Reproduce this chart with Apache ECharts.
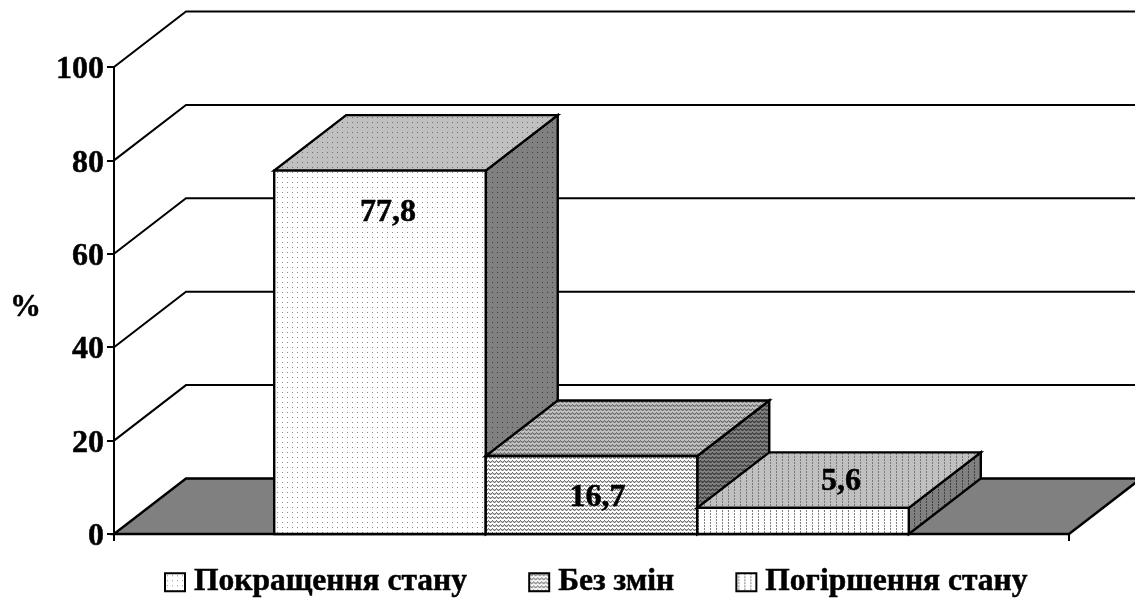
<!DOCTYPE html>
<html><head><meta charset="utf-8">
<style>html,body{margin:0;padding:0;background:#fff}#c{width:1135px;height:599px}</style>
<script src="https://cdn.jsdelivr.net/npm/echarts@6/dist/echarts.min.js"></script>
</head><body><div id="c"></div>
<script>
const categories = [''];
const seriesNames = ['Покращення стану', 'Без змін', 'Погіршення стану'];
const seriesValues = [77.8, 16.7, 5.6];
const valueLabels = ['77,8', '16,7', '5,6'];
const yTicks = [0, 20, 40, 60, 80, 100];
const axisName = '%';

const FONT = '"Liberation Serif","Times New Roman",serif';
const DX = 72, DY = -55.5, BAR_FRACTION = 0.2215;
const LABEL_SHIFT = [[8, 42], [6, 42], [38, -26]];

function tile(kind, bg, fg, soft) {
  const c = document.createElement('canvas');
  const size = { dots: [5, 5], zig: [4, 4], vert: [6, 3] }[kind];
  c.width = size[0]; c.height = size[1];
  const g = c.getContext('2d');
  g.fillStyle = bg; g.fillRect(0, 0, c.width, c.height);
  g.fillStyle = fg;
  if (kind === 'dots') g.fillRect(2, 2, 1, 1);
  if (kind === 'zig') {
    g.fillRect(0, 0, 1, 1); g.fillRect(1, 1, 1, 1); g.fillRect(2, 2, 1, 1); g.fillRect(3, 1, 1, 1);
    g.fillStyle = soft; g.fillRect(1, 2, 1, 1); g.fillRect(3, 2, 1, 1); g.fillRect(0, 1, 1, 1); g.fillRect(2, 1, 1, 1);
  }
  if (kind === 'vert') g.fillRect(2, 0, 1, 2);
  return { image: c, repeat: 'repeat' };
}
const fronts = [tile('dots', '#ffffff', '#8a8a8a'), tile('zig', '#ffffff', '#707070', '#c4c4c4'), tile('vert', '#ffffff', '#808080')];
const tops = [tile('dots', '#c0c0c0', '#707070'), tile('zig', '#c0c0c0', '#6e6e6e', '#9a9a9a'), tile('vert', '#c0c0c0', '#7a7a7a')];
const sides = [tile('dots', '#808080', '#404040'), tile('zig', '#808080', '#3c3c3c', '#5c5c5c'), tile('vert', '#808080', '#404040')];
const legendFills = [tile('dots', '#ffffff', '#8a8a8a'), tile('zig', '#ffffff', '#707070', '#c4c4c4'), tile('vert', '#ffffff', '#808080')];

const edge = { stroke: '#000', lineWidth: 2.4, lineJoin: 'miter' };
const poly = (points, fill) => ({ type: 'polygon', shape: { points }, style: Object.assign({ fill }, edge) });

function renderBar(i) {
  return function (params, api) {
    const v = api.value(1);
    const base = api.coord([0, 0]);
    const top = api.coord([0, v]);
    const w = api.size([1, 0])[0] * BAR_FRACTION;
    const x0 = base[0] + (i - 1.5) * w, x1 = x0 + w;
    const y0 = base[1], y1 = top[1];
    return {
      type: 'group',
      children: [
        poly([[x1, y1], [x1 + DX, y1 + DY], [x1 + DX, y0 + DY], [x1, y0]], sides[i]),
        poly([[x0, y1], [x1, y1], [x1 + DX, y1 + DY], [x0 + DX, y1 + DY]], tops[i]),
        poly([[x0, y0], [x1, y0], [x1, y1], [x0, y1]], fronts[i]),
        {
          type: 'text',
          style: {
            x: (x0 + x1) / 2 + LABEL_SHIFT[i][0], y: y1 + LABEL_SHIFT[i][1],
            text: valueLabels[i], fill: '#000', align: 'center', verticalAlign: 'middle',
            font: 'bold 32px ' + FONT, stroke: '#000', lineWidth: 0.5
          }
        }
      ]
    };
  };
}

function renderWall(params, api) {
  const v = api.value(1);
  const p = api.coord([0, v]);
  const half = api.size([1, 0])[0] / 2;
  const L = p[0] - half, R = p[0] + half, y = p[1];
  if (v === 0) {
    return poly([[L, y], [L + DX, y + DY], [R + DX, y + DY], [R, y]], '#808080');
  }
  return {
    type: 'polyline',
    shape: { points: [[L, y], [L + DX, y + DY], [R + DX, y + DY]] },
    style: { fill: null, stroke: '#000', lineWidth: 2 }
  };
}

const boldText = { fontFamily: FONT, fontWeight: 'bold', color: '#000', textBorderColor: '#000', textBorderWidth: 0.5 };

const chart = echarts.init(document.getElementById('c'), null, { renderer: 'canvas' });
chart.setOption({
  animation: false,
  backgroundColor: '#fff',
  grid: { left: 114, right: 66, top: 67, bottom: 65, containLabel: false, outerBoundsMode: 'none' },
  xAxis: {
    type: 'category', data: categories,
    axisLine: { lineStyle: { color: '#000', width: 2 } },
    axisTick: { show: true, length: 7, lineStyle: { color: '#000', width: 2 } },
    axisLabel: { show: false }, splitLine: { show: false }
  },
  yAxis: {
    type: 'value', min: 0, max: 100, interval: 20,
    name: axisName, nameLocation: 'middle', nameRotate: 0, nameGap: 73,
    nameTextStyle: Object.assign({ fontSize: 31, verticalAlign: 'top', lineHeight: 14 }, boldText),
    axisLine: { show: true, lineStyle: { color: '#000', width: 2 } },
    axisTick: { show: true, length: 7, lineStyle: { color: '#000', width: 2 } },
    axisLabel: Object.assign({ margin: 10, fontSize: 32, verticalAlign: 'top', lineHeight: 6 }, boldText),
    splitLine: { show: false }
  },
  legend: {
    left: 159, top: 561, icon: 'rect', itemWidth: 20, itemHeight: 18, itemGap: 61,
    data: seriesNames.map((n, i) => ({ name: n, itemStyle: { color: legendFills[i], borderColor: '#000', borderWidth: 2 } })),
    textStyle: Object.assign({ fontSize: 31.5, padding: [0, 0, 0, 4] }, boldText)
  },
  series: [
    {
      type: 'custom', name: 'wall', coordinateSystem: 'cartesian2d', clip: false, z: 2, silent: true,
      renderItem: renderWall,
      data: yTicks.map(t => [0, t])
    }
  ].concat(seriesNames.map((n, i) => ({
    type: 'custom', name: n, coordinateSystem: 'cartesian2d', clip: false, z: 3 + i,
    renderItem: renderBar(i),
    itemStyle: { color: legendFills[i] },
    data: [[0, seriesValues[i]]]
  })))
});
</script></body></html>
